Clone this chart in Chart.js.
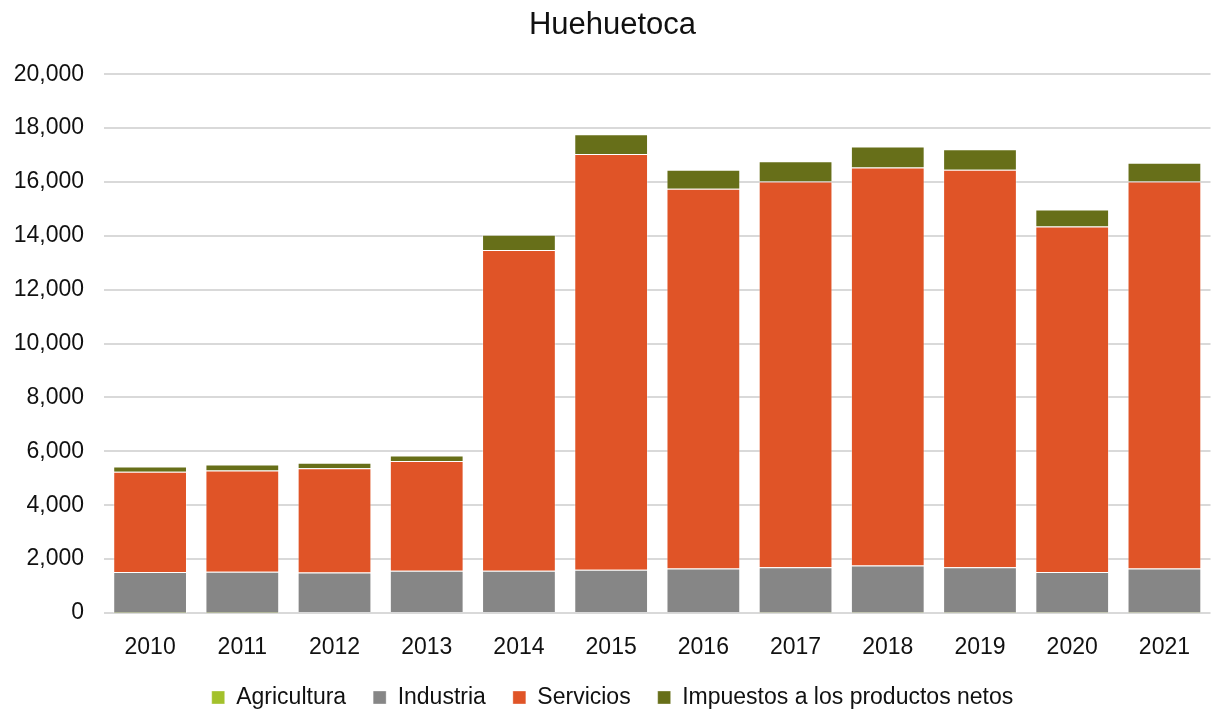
<!DOCTYPE html>
<html>
<head>
<meta charset="utf-8">
<script src="https://cdn.jsdelivr.net/npm/chart.js@4"></script>
<style>
  html, body { margin: 0; padding: 0; background: #fff; }
  #wrap { width: 1211px; height: 711px; }
</style>
</head>
<body>
<div id="wrap"><canvas id="my-chart"></canvas></div>
<script>
const years = ["2010", "2011", "2012", "2013", "2014", "2015", "2016", "2017", "2018", "2019", "2020", "2021"];
const agricultura = [10, 10, 40, 40, 40, 40, 30, 20, 20, 20, 20, 20];
const industria = [1510, 1525, 1460, 1530, 1530, 1570, 1620, 1680, 1740, 1680, 1500, 1630];
const servicios = [3720, 3755, 3870, 4070, 11900, 15430, 14100, 14320, 14780, 14750, 12830, 14370];
const impuestos = [200, 220, 210, 210, 570, 730, 700, 750, 780, 760, 630, 690];
const yTicks = [0, 2000, 4000, 6000, 8000, 10000, 12000, 14000, 16000, 18000, 20000];

const fontFamily = "'Liberation Sans', Arial, sans-serif";
const edge = "rgba(255,255,255,0.35)";

const makeSet = (label, data, color) => ({
    label: label,
    data: data,
    backgroundColor: color,
    borderColor: edge,
    borderWidth: 1,
    categoryPercentage: 0.8,
    barPercentage: 1.0,
});

new Chart(document.getElementById("my-chart"), {
    type: "bar",
    data: {
        labels: years,
        datasets: [
            makeSet("Agricultura", agricultura, "#a3c12b"),
            makeSet("Industria", industria, "#868686"),
            makeSet("Servicios", servicios, "#e05427"),
            makeSet("Impuestos a los productos netos", impuestos, "#676f19"),
        ],
    },
    options: {
        responsive: true,
        maintainAspectRatio: false,
        animation: false,
        layout: { padding: { left: 14, right: 0, top: 0, bottom: -8 } },
        plugins: {
            title: {
                display: true,
                text: "Huehuetoca",
                color: "#111",
                font: { family: fontFamily, size: 31, weight: "normal" },
                padding: { top: 7, bottom: 30 },
            },
            legend: {
                position: "bottom",
                labels: {
                    color: "#111",
                    font: { family: fontFamily, size: 23 },
                    boxWidth: 13,
                    boxHeight: 13,
                    padding: 27,
                },
            },
            tooltip: { enabled: false },
        },
        scales: {
            x: {
                stacked: true,
                grid: { display: false, drawTicks: false },
                border: { display: false },
                ticks: {
                    color: "#111",
                    font: { family: fontFamily, size: 23 },
                    padding: 21,
                },
                afterFit: (scale) => { scale.height = 46; },
            },
            y: {
                stacked: true,
                min: 0,
                max: 20000,
                afterBuildTicks: (axis) => {
                    axis.ticks = yTicks.map(v => ({ value: v }));
                },
                grid: { color: "#d9d9d9", lineWidth: 2, drawTicks: false },
                border: { display: false },
                ticks: {
                    color: "#111",
                    font: { family: fontFamily, size: 23 },
                    padding: 20,
                    callback: (v) => v.toLocaleString("en-US"),
                },
                afterFit: (scale) => { scale.width = 90; },
            },
        },
    },
});
</script>
</body>
</html>
